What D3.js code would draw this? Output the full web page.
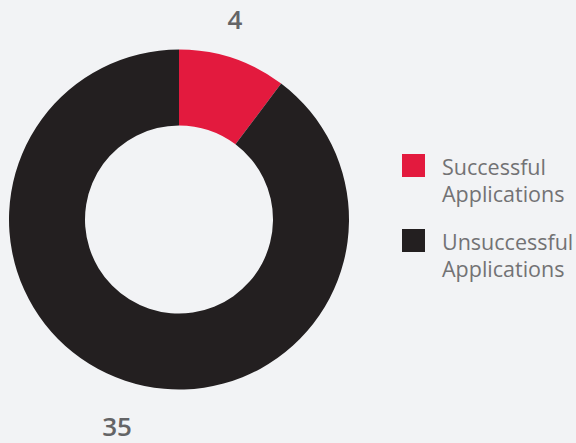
<!DOCTYPE html>
<html>
<head>
<meta charset="utf-8">
<script src="https://cdn.jsdelivr.net/npm/d3@7"></script>
<style>
  html, body { margin: 0; padding: 0; background: #f2f3f5; }
  svg { display: block; }
</style>
</head>
<body>
<svg id="chart" width="576" height="443"></svg>
<script>
// Application outcomes
const categories = ["Successful Applications", "Unsuccessful Applications"];
const labelLines = [["Successful", "Applications"], ["Unsuccessful", "Applications"]];
const values = [4, 35];
const colors = ["#e31a3e", "#231f20"];

const svg = d3.select("#chart");
const cx = 179, cy = 219.5;
const outerR = 170, innerR = 94;
const labelR = outerR + 42;
const labelShift = -2.3 * Math.PI / 180;
const labelFont = 26;

const pie = d3.pie().sort(null).value(d => d)(values);
const arc = d3.arc().innerRadius(innerR).outerRadius(outerR);
const color = d3.scaleOrdinal().domain(categories).range(colors);

const g = svg.append("g").attr("transform", `translate(${cx},${cy})`);
g.selectAll("path")
  .data(pie)
  .join("path")
  .attr("d", arc)
  .attr("fill", (d, i) => color(categories[i]));

// Value labels outside the ring, near each slice's mid-angle,
// with the digits' cap height centred on the anchor point
const mid = d => (d.startAngle + d.endAngle) / 2 + labelShift;
g.selectAll("text.value")
  .data(pie)
  .join("text")
  .attr("class", "value")
  .attr("x", d => Math.sin(mid(d)) * labelR - 3)
  .attr("y", d => -Math.cos(mid(d)) * labelR + 4 + labelFont * 0.36)
  .attr("text-anchor", "middle")
  .attr("font-family", "'Open Sans', sans-serif")
  .attr("font-weight", 600)
  .attr("font-size", labelFont)
  .attr("fill", "#646466")
  .text(d => d.data);

// Legend
const legend = svg.append("g").attr("transform", "translate(402,154)");
const item = legend.selectAll("g")
  .data(categories)
  .join("g")
  .attr("transform", (d, i) => `translate(0,${i * 75})`);
item.append("rect")
  .attr("width", 23).attr("height", 23)
  .attr("fill", d => color(d));
item.append("text")
  .attr("y", 21)
  .attr("font-family", "'Open Sans', sans-serif")
  .attr("font-size", 21.5)
  .attr("fill", "#727274")
  .selectAll("tspan")
  .data((d, i) => labelLines[i])
  .join("tspan")
  .attr("x", 40)
  .attr("dy", (d, j) => j === 0 ? 0 : 27)
  .text(d => d);
</script>
</body>
</html>
